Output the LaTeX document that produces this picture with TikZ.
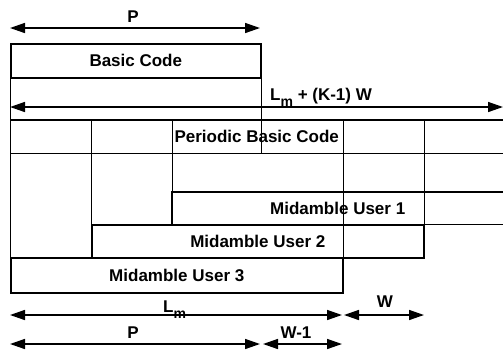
\documentclass[tikz,border=0pt]{standalone}
\usepackage{fontspec}
\setmainfont{Liberation Sans}
\usetikzlibrary{arrows.meta}
\begin{document}
\begin{tikzpicture}[x=1pt,y=-1pt,
  lbl/.style={font=\fontsize{17}{20}\selectfont\bfseries, inner sep=0pt},
  boxline/.style={line width=1.6pt},
  gridline/.style={line width=0.7pt},
  dim/.style={line width=1.5pt, {Triangle[length=15pt,width=10pt]}-{Triangle[length=15pt,width=10pt]}}
]
\useasboundingbox (0,0) rectangle (503,349);
\newcommand{\subm}{\raisebox{-6pt}{\fontsize{14}{14}\selectfont m}}

% boxes
\node[lbl, draw, boxline, minimum width=250pt, minimum height=34pt, anchor=north west] (basic) at (10,43) {Basic Code};
\node[lbl, minimum width=493pt, minimum height=33pt, anchor=north west] (per) at (10,120) {Periodic Basic Code};
\node[lbl, minimum width=331pt, minimum height=32pt, anchor=north west] (u1) at (172,192) {Midamble User 1};
\node[lbl, draw, boxline, minimum width=332pt, minimum height=33pt, anchor=north west] (u2) at (91,224) {Midamble User 2};
\node[lbl, draw, boxline, minimum width=332pt, minimum height=35pt, anchor=north west] (u3) at (10,257) {Midamble User 3};

\draw[boxline] (per.north west) -- (per.north east) (per.south west) -- (per.south east);
\draw[boxline] (u1.north east) -- (u1.north west) -- (u1.south west) -- (u1.south east);

% grid verticals
\draw[gridline] (basic.south west) -- (u3.north west);
\draw[gridline] (basic.south east) -- (basic.south east |- per.south);
\draw[gridline] (u2.north west |- per.north) -- (u2.north west);
\draw[gridline] (u1.north west |- per.north) -- (u1.north west);
\draw[gridline] (u3.north east |- per.north) -- (u3.north east);
\draw[gridline] (u2.north east |- per.north) -- (u2.north east);

% dimension arrows
\coordinate (pa) at (10,28);   \coordinate (pb) at (260,28);
\coordinate (ka) at (10,107);  \coordinate (kb) at (503,107);
\coordinate (la) at (10,315);  \coordinate (lb) at (342,315);
\coordinate (wa) at (344,315); \coordinate (wb) at (424,315);
\coordinate (qa) at (10,344);  \coordinate (qb) at (260,344);
\coordinate (va) at (263,344); \coordinate (vb) at (342,344);

\draw[dim] (pa) -- (pb);
\draw[dim] (ka) -- (kb);
\draw[dim] (la) -- (lb);
\draw[dim] (wa) -- (wb);
\draw[dim] (qa) -- (qb);
\draw[dim] (va) -- (vb);

% labels
\node[lbl, anchor=base] (plbl) at (133,22) {P};
\node[lbl, anchor=base west] (klbl) at (270,100) {L\subm{} + (K-1) W};
\node[lbl, anchor=base west] (llbl) at (163,312) {L\subm};
\node[lbl, anchor=base] (wlbl) at (385,307) {W};
\node[lbl, anchor=base] (qlbl) at (133,338) {P};
\node[lbl, anchor=base] (vlbl) at (296,338) {W-1};
\end{tikzpicture}
\end{document}
